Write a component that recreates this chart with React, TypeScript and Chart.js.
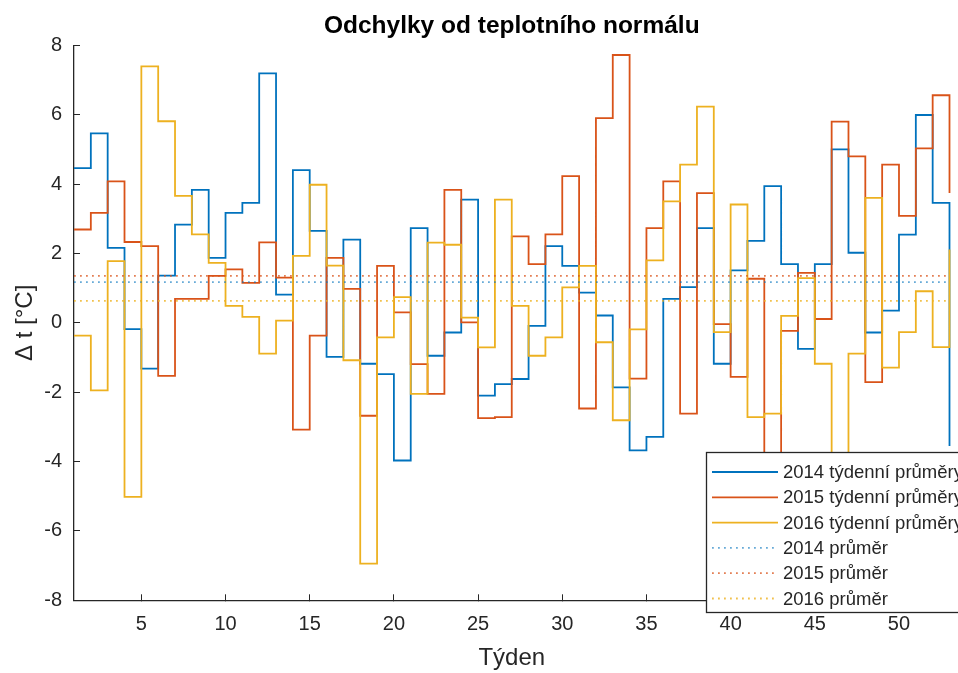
import React, { useEffect, useRef } from "react";
import { Chart, registerables } from "chart.js";

Chart.register(...registerables);

const TITLE = "Odchylky od teplotního normálu";
const X_TITLE = "Týden";
const Y_TITLE = "Δ t [°C]";

const weeks = [
  1, 2, 3, 4, 5, 6, 7, 8, 9, 10, 11, 12, 13, 14, 15, 16, 17, 18, 19, 20, 21, 22, 23, 24, 25, 26,
  27, 28, 29, 30, 31, 32, 33, 34, 35, 36, 37, 38, 39, 40, 41, 42, 43, 44, 45, 46, 47, 48, 49, 50,
  51, 52, 53,
];

const xTicks = [5, 10, 15, 20, 25, 30, 35, 40, 45, 50];

const weekly2014 = [
  4.46, 5.46, 2.16, -0.18, -1.32, 1.36, 2.83, 3.83, 1.87, 3.17, 3.46, 7.19, 0.81, 4.4, 2.65, -0.98,
  2.4, -1.18, -1.48, -3.97, 2.73, -0.95, -0.28, 3.55, -2.1, -1.77, -1.62, -0.09, 2.21, 1.64, 0.87,
  0.21, -1.86, -3.68, -3.29, 0.69, 1.03, 2.73, -1.18, 1.51, 2.36, 3.94, 1.69, -0.75, 1.69, 5.0,
  2.02, -0.28, 0.35, 2.54, 5.99, 3.46, -3.55,
];

const weekly2015 = [
  2.69, 3.17, 4.08, 2.33, 2.21, -1.53, 0.69, 0.69, 1.35, 1.54, 1.15, 2.32, 1.3, -3.08, -0.37, 1.87,
  0.98, -2.68, 1.64, 0.3, -1.19, -2.05, 3.83, 0.01, -2.75, -2.72, 2.49, 1.69, 2.55, 4.23, -2.47,
  5.9, 7.72, -1.61, 2.73, 4.08, -2.62, 3.74, -0.04, -1.56, 1.27, -5.5, -0.23, 1.44, 0.11, 5.8, 4.8,
  -1.71, 4.56, 3.08, 5.03, 6.56, 3.74,
];

const weekly2016 = [
  -0.37, -1.95, 1.78, -5.02, 7.39, 5.81, 3.66, 2.55, 1.73, 0.49, 0.17, -0.89, 0.06, 1.93, 3.98,
  1.65, -1.08, -6.94, -0.42, 0.74, -2.05, 2.31, 2.25, 0.15, -0.71, 3.55, 0.49, -0.95, -0.42, 1.02,
  1.64, -0.56, -2.81, -0.19, 1.8, 3.5, 4.56, 6.23, -0.27, 3.41, -2.72, -2.62, 0.2, 1.29, -1.18,
  -4.2, -0.89, 3.6, -1.29, -0.27, 0.91, -0.7, 2.11,
];

const meanWeeks = [1, 53];
const mean2014 = [1.17, 1.17];
const mean2015 = [1.35, 1.35];
const mean2016 = [0.63, 0.63];

const seriesLabels = [
  "2014 týdenní průměry",
  "2015 týdenní průměry",
  "2016 týdenní průměry",
  "2014 průměr",
  "2015 průměr",
  "2016 průměr",
];

const BLUE = "#0072BD";
const ORANGE = "#D95319";
const YELLOW = "#EDB120";
const BLUE_D = "rgba(0,114,189,0.6)";
const ORANGE_D = "rgba(217,83,25,0.75)";
const YELLOW_D = "rgba(237,177,32,0.8)";
const AXIS = "#262626";
const FONT = '"Liberation Sans", Arial, Helvetica, sans-serif';

const toPts = (xs: number[], ys: number[]) => xs.map((x, i) => ({ x, y: ys[i] }));

const titlePlugin = {
  id: "plotTitle",
  afterDraw(chart: any) {
    const ctx = chart.ctx as CanvasRenderingContext2D;
    const { left, right } = chart.chartArea;
    ctx.save();
    ctx.fillStyle = "#000000";
    ctx.font = `bold 24.5px ${FONT}`;
    ctx.textAlign = "center";
    ctx.textBaseline = "middle";
    ctx.fillText(TITLE, (left + right) / 2, 26);
    ctx.restore();
  },
};

const legendPlugin = {
  id: "boxLegend",
  afterDraw(chart: any) {
    const ctx = chart.ctx as CanvasRenderingContext2D;
    ctx.save();
    const x0 = 706.5;
    const y0 = 452.5;
    ctx.fillStyle = "#ffffff";
    ctx.fillRect(x0, y0, 300, 160);
    ctx.strokeStyle = AXIS;
    ctx.lineWidth = 1.3;
    ctx.strokeRect(x0, y0, 300, 160);
    ctx.font = `18.5px ${FONT}`;
    ctx.textBaseline = "middle";
    ctx.textAlign = "left";
    chart.data.datasets.forEach((ds: any, i: number) => {
      const y = 472 + i * 25.3;
      ctx.beginPath();
      ctx.setLineDash(ds.borderDash || []);
      ctx.strokeStyle = ds.borderColor;
      ctx.lineWidth = ds.borderWidth;
      ctx.moveTo(712, y);
      ctx.lineTo(778, y);
      ctx.stroke();
      ctx.setLineDash([]);
      ctx.fillStyle = AXIS;
      ctx.fillText(ds.label, 783, y + 1);
    });
    ctx.restore();
  },
};

export default function App() {
  const ref = useRef<HTMLCanvasElement | null>(null);

  useEffect(() => {
    if (!ref.current) return;
    const stepLine = (label: string, data: number[], color: string, order: number) => ({
      label,
      data: toPts(weeks, data),
      borderColor: color,
      backgroundColor: color,
      borderWidth: 1.8,
      stepped: "before" as const,
      pointRadius: 0,
      fill: false,
      clip: 4,
      order,
    });
    const meanLine = (label: string, data: number[], color: string, order: number) => ({
      label,
      data: toPts(meanWeeks, data),
      borderColor: color,
      backgroundColor: color,
      borderWidth: 1.8,
      borderDash: [1.8, 4.2],
      pointRadius: 0,
      fill: false,
      clip: 4,
      order,
    });

    const chart = new Chart(ref.current, {
      type: "line",
      data: {
        datasets: [
          stepLine(seriesLabels[0], weekly2014, BLUE, 6),
          stepLine(seriesLabels[1], weekly2015, ORANGE, 5),
          stepLine(seriesLabels[2], weekly2016, YELLOW, 4),
          meanLine(seriesLabels[3], mean2014, BLUE_D, 3),
          meanLine(seriesLabels[4], mean2015, ORANGE_D, 2),
          meanLine(seriesLabels[5], mean2016, YELLOW_D, 1),
        ] as any,
      },
      options: {
        animation: false,
        responsive: false,
        layout: { padding: { left: 0, right: 8.5, top: 45.3, bottom: 0 } },
        plugins: {
          legend: { display: false },
          tooltip: { enabled: false },
          title: { display: false },
        },
        scales: {
          x: {
            type: "linear",
            min: 1,
            max: 53,
            afterBuildTicks: (s: any) => {
              s.ticks = xTicks.map((v) => ({ value: v }));
            },
            afterFit: (s: any) => {
              s.height = 72.7;
            },
            ticks: {
              autoSkip: false,
              maxRotation: 0,
              color: AXIS,
              padding: 18.5,
              font: { family: FONT, size: 20 },
            },
            grid: {
              drawOnChartArea: false,
              drawTicks: true,
              tickLength: -6,
              color: AXIS,
              lineWidth: 1,
            },
            border: { display: true, color: AXIS, width: 1.3 },
            title: {
              display: true,
              text: X_TITLE,
              color: AXIS,
              font: { family: FONT, size: 24, lineHeight: 1.2 },
              padding: { top: 0, bottom: 0 },
            },
          },
          y: {
            type: "linear",
            min: -8,
            max: 8,
            afterFit: (s: any) => {
              s.width = 74;
            },
            ticks: {
              stepSize: 2,
              color: AXIS,
              padding: 18,
              font: { family: FONT, size: 20 },
            },
            grid: {
              drawOnChartArea: false,
              drawTicks: true,
              tickLength: -6,
              color: AXIS,
              lineWidth: 1,
            },
            border: { display: true, color: AXIS, width: 1.3 },
            title: {
              display: true,
              text: Y_TITLE,
              color: AXIS,
              font: { family: FONT, size: 24, lineHeight: 1.2 },
              padding: { top: 10.6, bottom: 0 },
            },
          },
        },
      } as any,
      plugins: [titlePlugin, legendPlugin],
    });
    return () => chart.destroy();
  }, []);

  return (
    <div style={{ position: "fixed", left: 0, top: 0, width: 958, height: 673, background: "#fff" }}>
      <canvas ref={ref} width={958} height={673} style={{ display: "block", width: 958, height: 673 }} />
    </div>
  );
}
